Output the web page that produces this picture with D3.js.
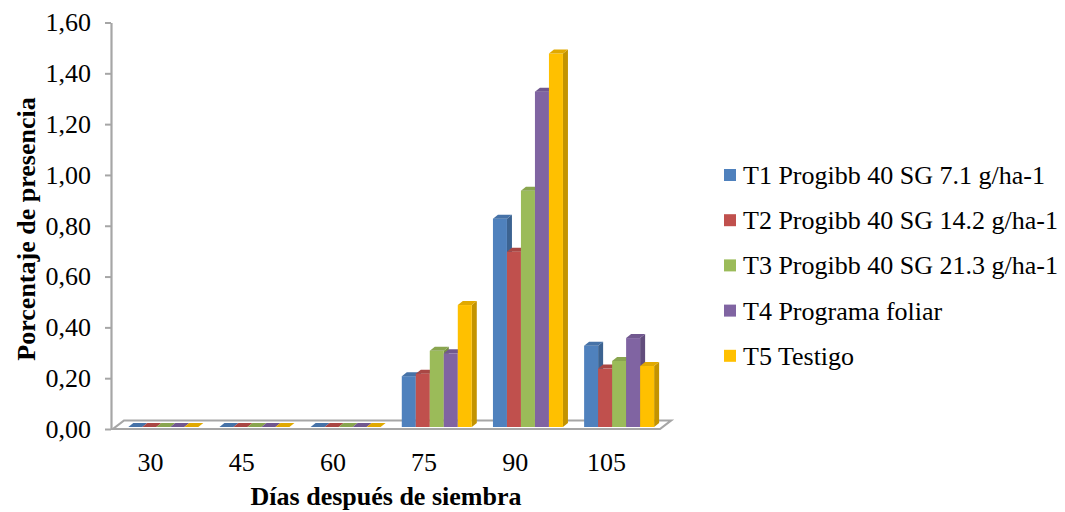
<!DOCTYPE html>
<html><head><meta charset="utf-8">
<script src="https://cdn.jsdelivr.net/npm/d3@7"></script>
<style>
html,body{margin:0;padding:0;background:#fff;}
svg{display:block;}
text{font-family:"Liberation Serif","Times New Roman",serif;fill:#000;}
</style></head>
<body>
<svg id="chart" width="1065" height="512"></svg>
<script>
// ---- data ----
const categories = ["30", "45", "60", "75", "90", "105"];
const seriesNames = [
  "T1 Progibb 40 SG 7.1 g/ha-1",
  "T2 Progibb 40 SG 14.2 g/ha-1",
  "T3 Progibb 40 SG 21.3 g/ha-1",
  "T4 Programa foliar",
  "T5 Testigo"
];
const t1Values = [0, 0, 0, 0.20, 0.82, 0.32];
const t2Values = [0, 0, 0, 0.21, 0.69, 0.23];
const t3Values = [0, 0, 0, 0.30, 0.93, 0.26];
const t4Values = [0, 0, 0, 0.29, 1.32, 0.35];
const t5Values = [0, 0, 0, 0.48, 1.47, 0.24];
const yTicks = [0, 0.2, 0.4, 0.6, 0.8, 1.0, 1.2, 1.4, 1.6];
const yTitle = "Porcentaje de presencia";
const xTitle = "Días después de siembra";

const seriesValues = [t1Values, t2Values, t3Values, t4Values, t5Values];
const frontColors = ["#4F81BD", "#C0504D", "#9BBB59", "#8064A2", "#FFC000"];

// ---- layout ----
const svg = d3.select("#chart");
const axisX = 111;
const floorDX = 11, floorDY = -8.5;
const barDX = 5, barDY = -4;
const barOffX = 4.7, barOffY = -2;

const x = d3.scaleBand().domain(categories).range([113, 660]).paddingInner(0).paddingOuter(0);
const y = d3.scaleLinear().domain([0, 1.6]).range([429, 22.5]);
const groupW = 70;
const xs = d3.scaleBand().domain(seriesNames).range([0, groupW]);

// floor
const fx0 = x.range()[0], fx1 = x.range()[1], fy = y(0);
svg.append("polygon")
  .attr("points", [[fx0, fy], [fx1, fy], [fx1 + floorDX, fy + floorDY], [fx0 + floorDX, fy + floorDY]].map(p => p.join(",")).join(" "))
  .attr("fill", "#fff").attr("stroke", "#A6A6A6").attr("stroke-width", 2.2).attr("stroke-linejoin", "miter");

// y axis
const yAxis = d3.axisLeft(y).tickValues(yTicks).tickSize(6).tickSizeOuter(0)
  .tickFormat(d => d.toFixed(2).replace(".", ","));
const gy = svg.append("g").attr("transform", `translate(${axisX},0)`).call(yAxis);
gy.select(".domain").attr("stroke", "#A6A6A6").attr("stroke-width", 2.2);
gy.selectAll(".tick line").attr("stroke", "#A6A6A6").attr("stroke-width", 2);
gy.selectAll(".tick text").attr("x", -20).attr("font-size", 26)
  .attr("font-family", "Liberation Serif").attr("fill", "#000");

// bars
const groups = svg.append("g");
categories.forEach((c, i) => {
  seriesNames.forEach((s, j) => {
    const v = seriesValues[j][i];
    const col = d3.color(frontColors[j]);
    const side = col.darker(0.75).formatHex();
    const top = col.darker(0.35).formatHex();
    const x0 = x(c) + (x.bandwidth() - groupW) / 2 + xs(s) + barOffX;
    const w = xs.bandwidth();
    const yb = y(0) + barOffY;
    const yt = y(v) + barOffY;
    const g = groups.append("g");
    // side face
    g.append("polygon")
      .attr("points", [[x0 + w, yb], [x0 + w + barDX, yb + barDY], [x0 + w + barDX, yt + barDY], [x0 + w, yt]].map(p => p.join(",")).join(" "))
      .attr("fill", side);
    // front face
    if (yb - yt > 0) {
      g.append("rect").attr("x", x0).attr("y", yt).attr("width", w).attr("height", yb - yt)
        .attr("fill", frontColors[j]);
    }
    // top face
    g.append("polygon")
      .attr("points", [[x0, yt], [x0 + w, yt], [x0 + w + barDX, yt + barDY], [x0 + barDX, yt + barDY]].map(p => p.join(",")).join(" "))
      .attr("fill", top);
  });
});

// x labels
svg.append("g").selectAll("text").data(categories).join("text")
  .attr("x", d => x(d) + x.bandwidth() / 2 - 8)
  .attr("y", 471)
  .attr("text-anchor", "middle")
  .attr("font-size", 26)
  .text(d => d);

// axis titles
svg.append("text").attr("x", 386).attr("y", 505).attr("text-anchor", "middle")
  .attr("font-size", 26).attr("font-weight", "bold").text(xTitle);
svg.append("text").attr("transform", "translate(35,229) rotate(-90)").attr("text-anchor", "middle")
  .attr("font-size", 26).attr("font-weight", "bold").text(yTitle);

// legend
const legend = svg.append("g").selectAll("g").data(seriesNames).join("g")
  .attr("transform", (d, i) => `translate(724,${175 + i * 45.2})`);
legend.append("rect").attr("x", 0).attr("y", -6).attr("width", 12).attr("height", 12)
  .attr("fill", (d, i) => frontColors[i]);
legend.append("text").attr("x", 19).attr("y", 9).attr("font-size", 26).text(d => d);
</script>
</body></html>
